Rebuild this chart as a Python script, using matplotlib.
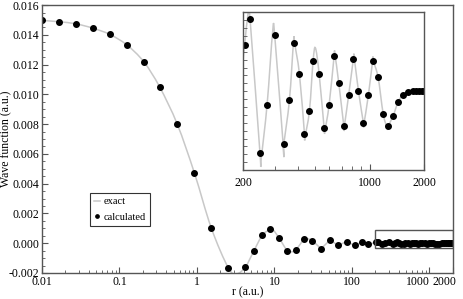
import numpy as np
import matplotlib
matplotlib.use("Agg")
import matplotlib.pyplot as plt
import matplotlib.transforms as mtransforms
from matplotlib.patches import Rectangle, PathPatch
from matplotlib.path import Path
from matplotlib.ticker import FixedLocator, NullFormatter, MultipleLocator, LogLocator, FormatStrFormatter

plt.rcParams['font.family'] = ['Liberation Serif', 'DejaVu Serif']
plt.rcParams['font.size'] = 8.5

# calculated points, r < 200 (a.u.)
r_calc = [0.01, 0.0166, 0.0274, 0.0453, 0.075, 0.124, 0.2055, 0.33, 0.557, 0.93,
          1.53, 2.55, 4.22, 5.4, 6.98, 8.85, 11.45, 14.7, 19.0, 24.3, 31.0,
          40.2, 52.0, 67.0, 86.0, 110.0, 135.0, 163.0]
psi_calc = [0.01497, 0.01488, 0.01474, 0.01445, 0.01403, 0.01333, 0.0122, 0.0105, 0.0080, 0.0047,
            0.00103, -0.00167, -0.0016, -0.00054, 0.00054, 0.00094, 0.00036, -0.00052, -0.00043, 0.00029, 0.00016,
            -0.00036, 0.0002, -0.00015, 0.00009, -0.00011, 0.00007, -0.00005]

# extrema of exact curve, r < 200
r_ext = [3.27, 9.3, 16.5, 26.5, 40.0, 53.0, 66.0, 84.0]
psi_ext = [-0.00205, 0.00100, -0.00058, 0.00031, -0.00038, 0.00022, -0.00016, 0.00010]

# calculated points, 200 < r < 2000 (units of 1e-4 a.u.)
r_tail = [204, 218.6, 248, 271.5, 299, 335.6, 360.6, 384.5, 409.7, 436.6,
          465.3, 487.5, 526, 560.6, 597.5, 636.7, 675.7, 720, 767, 814,
          867.6, 924.6, 985.6, 1046, 1114, 1188, 1265, 1349, 1437, 1525,
          1625, 1732, 1806, 1876, 1950, 2000]
psi_tail = [0.582, 0.911, -0.785, -0.169, 0.709, -0.671, -0.114, 0.612, 0.215, -0.540,
            -0.245, 0.388, 0.224, -0.464, -0.173, 0.447, 0.101, -0.439, -0.042, 0.414,
            0.004, -0.405, -0.042, 0.384, 0.177, -0.283, -0.443, -0.312, -0.135, -0.047,
            -0.013, 0.0, 0.0, 0.0, 0.0, 0.0]

# extrema of exact curve, 200 < r < 2000 (units of 1e-4 a.u.)
r_tail_ext = [200, 213, 251.5, 291.6, 334, 380, 438.5, 502, 565.5, 642, 723, 821, 928.6, 1041, 1254]
psi_tail_ext = [0.40, 0.98, -0.852, 0.764, -0.713, 0.629, -0.586, 0.548, -0.502, 0.477, -0.46, 0.434, -0.422, 0.401, -0.477]

unit = 1e-4
r_tail = np.array(r_tail, float)
psi_tail = np.array(psi_tail) * unit
r_tail_ext = np.array(r_tail_ext, float)
psi_tail_ext = np.array(psi_tail_ext) * unit

# exact curves: union of sampled and extremum points
ex_r_in = np.concatenate([r_tail, r_tail_ext])
ex_p_in = np.concatenate([psi_tail, psi_tail_ext])
o = np.argsort(ex_r_in)
ex_r_in, ex_p_in = ex_r_in[o], ex_p_in[o]

ex_r = np.concatenate([r_calc, r_ext, ex_r_in])
ex_p = np.concatenate([psi_calc, psi_ext, ex_p_in])
o = np.argsort(ex_r)
ex_r, ex_p = ex_r[o], ex_p[o]

all_r = np.concatenate([r_calc, r_tail])
all_p = np.concatenate([psi_calc, psi_tail])


def smooth_path(x, y):
    # Catmull-Rom -> cubic Bezier through the points, in log-x space
    pts = np.column_stack([np.log10(x), y])
    verts = [pts[0]]
    codes = [Path.MOVETO]
    n = len(pts)
    for i in range(n - 1):
        p0 = pts[i - 1] if i > 0 else pts[i]
        p1, p2 = pts[i], pts[i + 1]
        p3 = pts[i + 2] if i + 2 < n else pts[i + 1]
        verts += [p1 + (p2 - p0) / 6, p2 - (p3 - p1) / 6, p2]
        codes += [Path.CURVE4] * 3
    verts = np.array(verts)
    verts[:, 0] = 10 ** verts[:, 0]
    return Path(verts, codes)


line_col = '#c8c8c8'
spine_col = '#555555'

fig = plt.figure(figsize=(4.63, 2.99), dpi=100)
ax = fig.add_axes([0.0907, 0.087, 0.887, 0.896])
ax.add_patch(PathPatch(smooth_path(ex_r, ex_p), fc='none', ec=line_col, lw=1.1, zorder=1))
ax.plot([], [], color=line_col, lw=1.1, label='exact')
ax.plot(all_r, all_p, 'o', color='black', ms=4, label='calculated', zorder=2)
ax.set_xscale('log')
ax.set_xlim(0.01, 2000)
ax.set_ylim(-0.002, 0.016)
ax.xaxis.set_major_locator(FixedLocator([0.01, 0.1, 1, 10, 100, 1000, 2000]))
ax.set_xticklabels(['0.01', '0.1', '1', '10', '100', '1000', '2000'])
ax.xaxis.set_minor_locator(LogLocator(base=10, subs=np.arange(2, 10)))
ax.xaxis.set_minor_formatter(NullFormatter())
ax.yaxis.set_major_locator(MultipleLocator(0.002))
ax.yaxis.set_minor_locator(MultipleLocator(0.0005))
ax.yaxis.set_major_formatter(FormatStrFormatter('%.3f'))
ax.tick_params(which='both', direction='in', top=False, right=False, colors=spine_col, labelcolor='black')
ax.tick_params(which='major', length=4, width=0.8)
ax.tick_params(which='minor', length=2, width=0.6)
ax.tick_params(axis='x', pad=2)
ax.tick_params(axis='y', pad=2)
labs = ax.get_xticklabels()
labs[-2].set_horizontalalignment('right')
labs[-1].set_horizontalalignment('right')
labs[-1].set_transform(labs[-1].get_transform() + mtransforms.ScaledTranslation(4 / 100, 0, fig.dpi_scale_trans))
for s in ax.spines.values():
    s.set_color(spine_col)
    s.set_linewidth(1.0)
ax.set_xlabel('r (a.u.)')
ax.xaxis.set_label_coords(0.5, -0.05)
ax.set_ylabel('Wave function (a.u.)')
ax.yaxis.set_label_coords(-0.072, 0.5)

ax.add_patch(Rectangle((200, -0.00035), 1800, 0.00122, fill=False, ec=spine_col, lw=1.0, zorder=3))

leg = ax.legend(loc='upper left', bbox_to_anchor=(0.117, 0.2985), borderaxespad=0, frameon=True,
                fancybox=False, edgecolor='black', handlelength=0.6, handletextpad=0.3, borderpad=0.4,
                labelspacing=0.6, fontsize=7.5, markerscale=0.6)
leg.get_frame().set_linewidth(0.8)

# inset
ins = fig.add_axes([0.525, 0.431, 0.391, 0.528])
ins.add_patch(PathPatch(smooth_path(ex_r_in, ex_p_in), fc='none', ec=line_col, lw=1.1, zorder=1))
ins.plot(r_tail, psi_tail, 'o', color='black', ms=4, zorder=2)
ins.set_xscale('log')
ins.set_xlim(200, 2000)
ins.set_ylim(-1e-4, 1e-4)
ins.xaxis.set_major_locator(FixedLocator([200, 1000, 2000]))
ins.set_xticklabels(['200', '1000', '2000'])
ins.xaxis.set_minor_locator(FixedLocator([300, 400, 500, 600, 700, 800, 900]))
ins.xaxis.set_minor_formatter(NullFormatter())
ins.yaxis.set_major_locator(MultipleLocator(1e-5))
ins.tick_params(which='both', direction='in', top=False, right=False, colors=spine_col, labelcolor='black')
ins.tick_params(axis='y', labelleft=False, length=3, width=0.6)
ins.tick_params(axis='x', which='major', length=4, width=0.8, pad=5)
ins.tick_params(axis='x', which='minor', length=3, width=0.6)
for s in ins.spines.values():
    s.set_color(spine_col)
    s.set_linewidth(1.0)

fig.savefig('out.png', dpi=100)
